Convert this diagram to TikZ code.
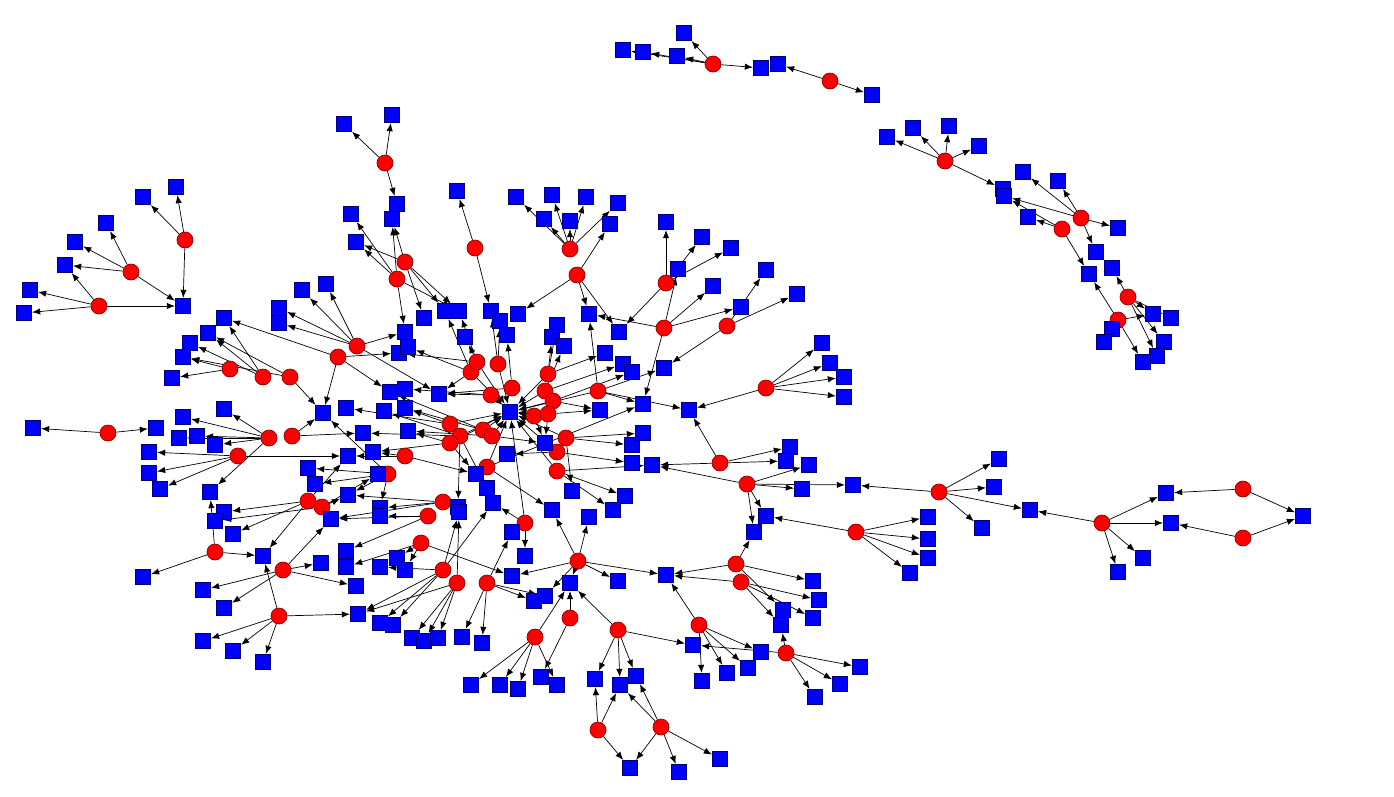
\documentclass[tikz,border=0pt]{standalone}
\usepackage{xcolor}
\usepackage{tikz}
\usetikzlibrary{arrows.meta,backgrounds}
\definecolor{graphred}{HTML}{FF0000}
\definecolor{graphdarkred}{HTML}{8A0000}
\definecolor{graphblue}{HTML}{0000FF}
\definecolor{graphnavy}{HTML}{000070}

\begin{document}
\begin{tikzpicture}[x=0.02cm,y=-0.02cm,
    sommet/.style={circle,draw=graphdarkred,fill=graphred,line width=0.4pt,
                   minimum size=0.32cm,inner sep=0pt},
    cible/.style={rectangle,draw=graphnavy,fill=graphblue,line width=0.4pt,
                  minimum size=0.31cm,inner sep=0pt},
    lien/.style={-{Latex[length=4.6pt,width=3.6pt]},line width=0.4pt,black}]

  \useasboundingbox (0,0) rectangle (1394,796);

  % Sommets rouges
  \foreach \x/\y in {713/64, 830/81, 945/161, 1081/218, 1062/229, 1128/297, 1118/320,
      939/492, 1102/523, 1243/489, 1243/538, 856/532,
      766/388, 720/463, 747/484, 736/564, 741/582, 699/625, 786/653, 618/630,
      727/326, 664/328, 666/283,
      535/637, 570/618, 598/730, 661/727, 578/561, 525/523,
      185/240, 131/272, 99/306, 230/369, 263/377, 290/377, 108/433, 269/438, 292/436,
      238/456, 215/552, 283/570, 279/616,
      385/163, 475/248, 405/262, 397/279, 570/249, 577/275, 338/357, 357/346,
      450/424, 460/436, 450/443, 405/456, 388/474, 471/372, 477/362, 308/501, 322/507,
      443/502,
      498/364, 512/388, 491/395, 548/374, 545/391, 553/401, 534/416, 548/414, 598/391,
      566/438, 557/452, 557/471, 483/430, 492/436, 487/467,
      428/516, 421/543, 443/570, 457/583, 487/583} {
    \node[sommet] (r\x x\y) at (\x,\y) {};
  }

  % Cibles bleues
  \foreach \x/\y in {684/33, 623/50, 643/52, 677/56, 761/68, 778/64, 872/95, 887/137,
      913/128, 949/126, 979/146, 1003/189, 1004/196, 1023/172, 1058/181, 1028/217,
      1118/228, 1096/252, 1112/268, 1089/274, 1153/314, 1171/318, 1112/329, 1104/342,
      1164/342, 1157/356, 1143/362,
      999/459, 994/487, 853/485, 1030/510, 982/528, 928/517, 928/539, 928/558, 910/573,
      1166/493, 1171/523, 1118/572, 1143/558, 1303/516,
      822/343, 830/363, 844/377, 844/397, 689/410, 643/404, 790/447, 786/461, 809/465,
      802/489, 766/516, 754/532, 652/465, 632/445, 632/463, 643/433, 625/496, 613/510,
      666/575, 618/581, 813/581, 819/600, 813/618, 783/610, 781/625, 693/645, 761/652,
      702/681, 727/673, 748/668, 860/667, 840/684, 815/697, 766/270, 797/294, 713/286,
      741/307, 678/269, 666/222, 702/237, 731/248, 664/368, 605/353, 623/364, 632/372,
      600/410,
      516/197, 552/195, 586/197, 618/203, 544/219, 570/221, 610/224, 457/191, 344/124,
      392/115, 397/204, 392/219, 351/214, 356/242, 424/318, 445/311, 459/311, 491/311,
      500/321, 518/314, 507/335, 465/337, 405/332, 302/290, 326/284, 589/314, 619/332,
      557/325, 552/337, 564/346,
      176/187, 143/197, 106/223, 75/242, 65/265, 30/290, 24/313, 183/306, 224/318,
      208/333, 190/343, 183/357, 172/378, 279/308, 279/323, 33/428, 156/428, 183/417,
      224/409, 179/438, 197/436, 215/445, 149/452, 149/473, 160/489, 210/492, 224/512,
      215/521, 233/534, 263/556, 143/577, 203/590, 224/608, 203/641, 233/651, 263/662,
      399/353, 408/347, 390/392, 405/389, 439/394, 323/413, 346/408, 384/411, 405/408,
      363/433, 408/431, 348/456, 373/452, 308/468, 315/484, 378/474, 348/495, 380/508,
      476/474, 458/507, 510/412, 545/443, 507/454, 487/488, 493/503, 572/491, 552/510,
      589/517,
      331/519, 380/516, 459/512, 346/551, 346/567, 321/563, 380/567, 397/558, 405/570,
      356/586, 358/614, 380/623, 393/625, 412/638, 424/641, 438/638, 462/637, 482/643,
      512/532, 525/556, 512/576, 534/601, 545/596, 570/583,
      471/685, 500/685, 518/689, 541/677, 557/685, 595/679, 620/685, 636/676, 630/768,
      679/772, 720/759} {
    \node[cible] (s\x x\y) at (\x,\y) {};
  }

  \begin{scope}[on background layer]
    \fill[white] (0,0) rectangle (1394,796);
    % Arcs
    \foreach \a/\b in {r713x64/s677x56, r713x64/s684x33, r713x64/s643x52,
        r713x64/s623x50, r713x64/s761x68, r830x81/s778x64, r830x81/s872x95,
        r945x161/s887x137, r945x161/s913x128, r945x161/s949x126, r945x161/s979x146,
        r945x161/s1003x189, r1081x218/s1004x196, r1081x218/s1023x172,
        r1081x218/s1058x181, r1081x218/s1118x228, r1081x218/s1096x252,
        r1062x229/s1004x196, r1062x229/s1028x217, r1062x229/s1089x274,
        r1128x297/s1112x268, r1128x297/s1153x314, r1128x297/s1164x342,
        r1128x297/s1157x356, r1128x297/s1171x318, r1118x320/s1089x274,
        r1118x320/s1153x314, r1118x320/s1143x362, r1118x320/s1104x342,
        r939x492/s853x485, r939x492/s999x459, r939x492/s994x487, r939x492/s1030x510,
        r939x492/s982x528, r1102x523/s1030x510, r1102x523/s1166x493,
        r1102x523/s1171x523, r1102x523/s1118x572, r1102x523/s1143x558,
        r1243x489/s1166x493, r1243x489/s1303x516, r1243x538/s1171x523,
        r1243x538/s1303x516, r856x532/s928x517, r856x532/s928x539, r856x532/s928x558,
        r856x532/s910x573, r856x532/s766x516,
        r766x388/s822x343, r766x388/s830x363, r766x388/s844x377, r766x388/s844x397,
        r766x388/s689x410, r720x463/s689x410, r720x463/s790x447, r720x463/s786x461,
        r720x463/s652x465, r747x484/s652x465, r747x484/s809x465, r747x484/s802x489,
        r747x484/s853x485, r747x484/s766x516, r747x484/s754x532,
        r736x564/s754x532, r736x564/s666x575, r736x564/s813x581, r736x564/s783x610,
        r741x582/s666x575, r741x582/s819x600, r741x582/s813x618, r741x582/s781x625,
        r699x625/s666x575, r699x625/s761x652, r699x625/s702x681, r699x625/s727x673,
        r699x625/s748x668, r786x653/s860x667, r786x653/s840x684, r786x653/s815x697,
        r786x653/s781x625, r786x653/s693x645, r618x630/s693x645, r618x630/s595x679,
        r618x630/s620x685, r618x630/s636x676, r618x630/s570x583,
        r727x326/s766x270, r727x326/s797x294, r727x326/s664x368,
        r664x328/s678x269, r664x328/s713x286, r664x328/s741x307, r664x328/s589x314,
        r664x328/s643x404, r666x283/s666x222, r666x283/s702x237, r666x283/s731x248,
        r666x283/s619x332,
        r535x637/s570x583, r535x637/s471x685, r535x637/s500x685, r535x637/s518x689,
        r535x637/s557x685, r570x618/s570x583, r570x618/s541x677,
        r598x730/s595x679, r598x730/s620x685, r598x730/s630x768,
        r661x727/s620x685, r661x727/s636x676, r661x727/s630x768, r661x727/s679x772,
        r661x727/s720x759,
        r578x561/s552x510, r578x561/s570x583, r578x561/s545x596, r578x561/s512x576,
        r578x561/s618x581, r578x561/s666x575, r578x561/s589x517,
        r525x523/s512x532, r525x523/s525x556, r525x523/s493x503, r525x523/s510x412,
        r185x240/s143x197, r185x240/s176x187, r185x240/s183x306,
        r131x272/s106x223, r131x272/s75x242, r131x272/s65x265, r131x272/s183x306,
        r99x306/s65x265, r99x306/s30x290, r99x306/s24x313, r99x306/s183x306,
        r230x369/s172x378, r230x369/s183x357, r263x377/s224x318, r263x377/s190x343,
        r263x377/s208x333, r290x377/s208x333, r290x377/s183x357, r290x377/s323x413,
        r108x433/s33x428, r108x433/s156x428,
        r269x438/s183x417, r269x438/s224x409, r269x438/s179x438, r269x438/s197x436,
        r269x438/s215x445, r269x438/s210x492, r292x436/s323x413, r292x436/s363x433,
        r238x456/s149x452, r238x456/s149x473, r238x456/s160x489, r238x456/s348x456,
        r215x552/s143x577, r215x552/s210x492, r215x552/s263x556,
        r283x570/s203x590, r283x570/s224x608, r283x570/s321x563, r283x570/s356x586,
        r283x570/s331x519, r279x616/s203x641, r279x616/s233x651, r279x616/s263x662,
        r279x616/s263x556, r279x616/s358x614,
        r308x501/s224x512, r308x501/s233x534, r308x501/s263x556, r308x501/s348x456,
        r322x507/s215x521, r322x507/s348x495, r322x507/s378x474,
        r385x163/s344x124, r385x163/s392x115, r385x163/s397x204,
        r475x248/s457x191, r475x248/s491x311,
        r405x262/s392x219, r405x262/s356x242, r405x262/s445x311, r405x262/s424x318,
        r405x262/s459x311, r397x279/s351x214, r397x279/s392x219, r397x279/s356x242,
        r397x279/s459x311, r397x279/s405x332,
        r570x249/s516x197, r570x249/s552x195, r570x249/s586x197, r570x249/s618x203,
        r570x249/s544x219, r570x249/s570x221, r577x275/s610x224, r577x275/s589x314,
        r577x275/s619x332, r577x275/s518x314,
        r338x357/s399x353, r338x357/s323x413, r338x357/s224x318, r338x357/s390x392,
        r357x346/s302x290, r357x346/s326x284, r357x346/s279x308, r357x346/s279x323,
        r357x346/s405x332, r357x346/s439x394,
        r450x424/s346x408, r450x424/s405x408, r450x424/s510x412,
        r460x436/s384x411, r460x436/s363x433, r460x436/s510x412, r460x436/s458x507,
        r460x436/s487x488,
        r450x443/s408x431, r450x443/s373x452, r450x443/s476x474, r450x443/s510x412,
        r405x456/s373x452, r405x456/s348x456, r405x456/s476x474,
        r388x474/s308x468, r388x474/s315x484, r388x474/s380x508, r388x474/s348x495,
        r388x474/s323x413,
        r471x372/s445x311, r471x372/s439x394, r471x372/s408x347, r471x372/s510x412,
        r477x362/s459x311, r477x362/s465x337, r477x362/s399x353, r477x362/s510x412,
        r443x502/s331x519, r443x502/s380x508, r443x502/s348x495,
        r498x364/s491x311, r498x364/s500x321, r498x364/s510x412,
        r512x388/s507x335, r512x388/s439x394,
        r491x395/s439x394, r491x395/s510x412, r491x395/s405x389,
        r548x374/s552x337, r548x374/s557x325, r548x374/s605x353, r548x374/s510x412,
        r545x391/s564x346, r545x391/s623x364, r545x391/s510x412,
        r553x401/s632x372, r553x401/s600x410, r553x401/s510x412,
        r534x416/s510x412, r534x416/s545x443,
        r548x414/s510x412, r548x414/s600x410, r548x414/s545x443,
        r598x391/s664x368, r598x391/s643x404, r598x391/s689x410, r598x391/s510x412,
        r598x391/s589x314,
        r566x438/s643x433, r566x438/s632x445, r566x438/s572x491, r566x438/s510x412,
        r557x452/s632x463, r557x452/s507x454, r557x452/s510x412,
        r557x471/s652x465, r557x471/s625x496, r557x471/s613x510, r557x471/s510x412,
        r483x430/s510x412, r483x430/s405x408, r483x430/s390x392,
        r492x436/s510x412, r492x436/s545x443, r492x436/s408x431,
        r487x467/s510x412, r487x467/s476x474, r487x467/s552x510, r487x467/s643x404,
        r428x516/s380x516, r428x516/s346x551, r428x516/s331x519,
        r421x543/s397x558, r421x543/s405x570, r421x543/s512x576, r421x543/s346x567,
        r443x570/s358x614, r443x570/s393x625, r443x570/s459x512, r443x570/s493x503,
        r443x570/s380x567, r443x570/s380x623,
        r457x583/s358x614, r457x583/s412x638, r457x583/s438x638, r457x583/s424x641,
        r457x583/s459x512,
        r487x583/s512x532, r487x583/s462x637, r487x583/s482x643, r487x583/s534x601,
        r487x583/s545x596} {
      \draw[lien] (\a) -- (\b);
    }
  \end{scope}

\end{tikzpicture}
\end{document}
